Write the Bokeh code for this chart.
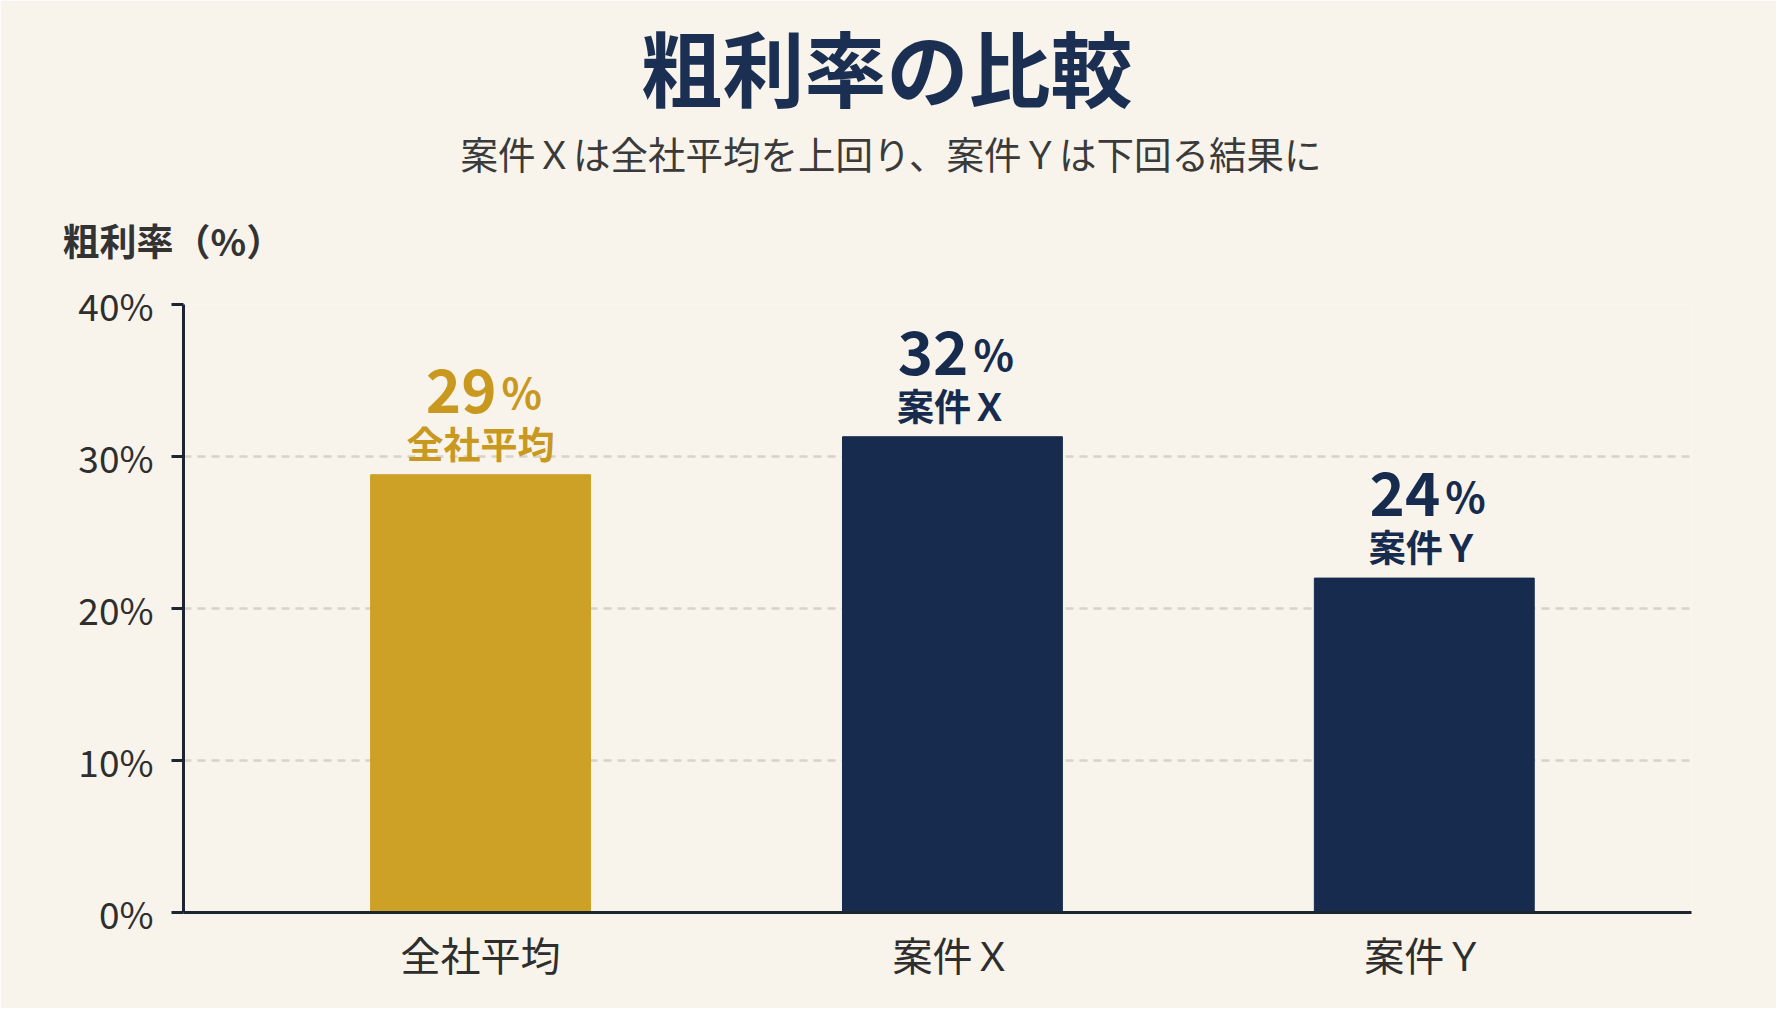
import numpy as np
from bokeh.plotting import figure
from bokeh.models import ColumnDataSource, Range1d, FixedTicker, PrintfTickFormatter, Title
from bokeh.core.properties import value
from bokeh.embed import file_html
from bokeh.resources import INLINE

# datos
categorias = ["全社平均", "案件Ｘ", "案件Ｙ"]
valores = [28.8, 31.3, 22.0]          # altura de las barras
etiquetas = ["29", "32", "24"]        # numeros escritos sobre las barras
colores = ["#CDA026", "#172B4F", "#172B4F"]
colores_texto = ["#C9981E", "#172B4F", "#172B4F"]
y_ticks = [0, 10, 20, 30, 40]

fuente = "Noto Sans CJK JP"
fondo = "#F8F4EC"

x = list(range(len(categorias)))
src = ColumnDataSource(data=dict(x=x, y=valores, num=etiquetas, pct=["%"] * len(x),
                                 cat=categorias, color=colores, tcolor=colores_texto))

p = figure(width=1776, height=1008, title=None,
           x_range=Range1d(-0.6296, 2.5663), y_range=Range1d(0, 40),
           output_backend="svg", toolbar_location=None,
           min_border_left=183, min_border_right=85, min_border_top=304, min_border_bottom=96)
p.background_fill_color = fondo
p.border_fill_color = fondo
p.outline_line_color = None

p.vbar(x="x", top="y", width=0.466, bottom=0, color="color", source=src)

# numero grande + %
p.text(x="x", y="y", text="num", source=src, text_align="right", text_baseline="alphabetic",
       x_offset=16, y_offset=-84, text_font=value(fuente), text_font_size="60px",
       text_font_style="bold", text_color="tcolor")
p.text(x="x", y="y", text="pct", source=src, text_align="left", text_baseline="alphabetic",
       x_offset=21, y_offset=-84, text_font=value(fuente), text_font_size="42px",
       text_font_style="bold", text_color="tcolor")
p.text(x="x", y="y", text="cat", source=src, text_align="center", text_baseline="middle",
       y_offset=-32, text_font=value(fuente), text_font_size="37px",
       text_font_style="bold", text_color="tcolor")

# ejes
p.xaxis.ticker = FixedTicker(ticks=x)
p.xaxis.major_label_overrides = {i: c for i, c in zip(x, categorias)}
p.xaxis.major_tick_line_color = None
p.xaxis.minor_tick_line_color = None
p.xaxis.axis_line_color = "#1E2530"
p.xaxis.axis_line_width = 3
p.xaxis.major_label_standoff = 6
p.xaxis.major_label_text_font = fuente
p.xaxis.major_label_text_font_size = "40px"
p.xaxis.major_label_text_color = "#2E2E2E"

p.yaxis.ticker = FixedTicker(ticks=y_ticks)
p.yaxis.formatter = PrintfTickFormatter(format="%d%%")
p.yaxis.minor_tick_line_color = None
p.yaxis.major_tick_in = 0
p.yaxis.major_tick_out = 12
p.yaxis.major_tick_line_width = 3
p.yaxis.major_tick_line_color = "#1E2530"
p.yaxis.axis_line_color = "#1E2530"
p.yaxis.axis_line_width = 3
p.yaxis.major_label_standoff = 18
p.yaxis.major_label_text_font = fuente
p.yaxis.major_label_text_font_size = "37px"
p.yaxis.major_label_text_color = "#2E2E2E"

p.xgrid.grid_line_color = None
p.ygrid.grid_line_color = "#D6D2C9"
p.ygrid.grid_line_width = 2.5
p.ygrid.grid_line_dash = "8 6"

# titulos (el primero queda junto al grafico)
p.add_layout(Title(text="粗利率（%）", align="left", offset=-121, vertical_align="middle",
                   standoff=74, text_font=fuente, text_font_size="37px",
                   text_font_style="bold", text_color="#333333"), "above")
p.add_layout(Title(text="案件Ｘは全社平均を上回り、案件Ｙは下回る結果に", align="left", offset=277,
                   vertical_align="middle", standoff=-12, text_font=fuente,
                   text_font_size="37.5px", text_font_style="normal", text_color="#3A3A3A"), "above")
p.add_layout(Title(text="粗利率の比較", align="left", offset=457, vertical_align="middle", standoff=8,
                   text_font=fuente, text_font_size="82px", text_font_style="bold",
                   text_color="#1B2F52"), "above")

open("out.html", "w").write(file_html(p, INLINE))
